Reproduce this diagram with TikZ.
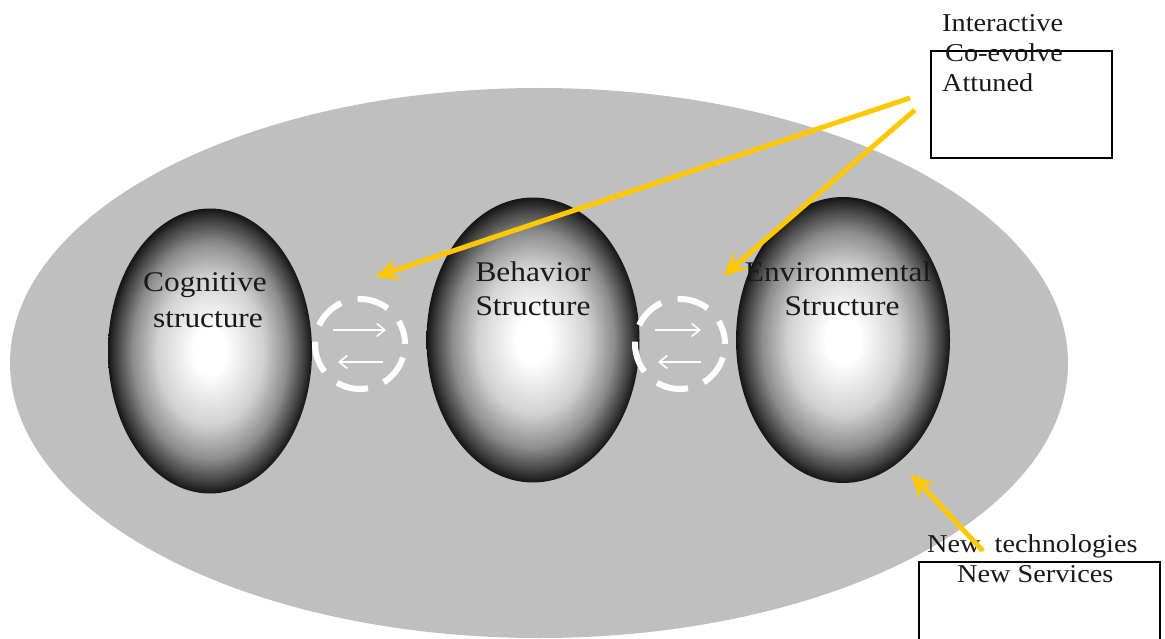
\documentclass[tikz,border=0pt]{standalone}
\usepackage{fontspec}
\setmainfont{Liberation Serif}[FakeStretch=1.1]
\usetikzlibrary{arrows.meta,shapes.geometric}
\definecolor{yel}{RGB}{255,200,0}
\definecolor{bggray}{RGB}{191,191,191}
\definecolor{txt}{RGB}{25,25,25}
\pgfdeclareradialshading{eggshade}{\pgfpoint{0bp}{0bp}}{%
  color(0bp)=(white); color(4bp)=(white); color(13bp)=(black!18);
  color(19bp)=(black!45); color(23bp)=(black!75); color(25bp)=(black!92); color(50bp)=(black)}
\tikzset{
  eggnode/.style={ellipse, draw=none, shading=eggshade, inner sep=0pt},
  eggtxt/.style={anchor=base, inner sep=0pt, text=txt, font=\fontsize{28.5}{34}\selectfont},
  sidetxt/.style={anchor=base west, inner sep=0pt, text=txt, font=\fontsize{25.7}{30}\selectfont},
  dashring/.style={circle, draw=white, line width=6pt, dash pattern=on 32pt off 17pt, dash phase=8pt, minimum size=90pt, inner sep=0pt},
  whitearrow/.style={draw=white, line width=1.6pt, -{Straight Barb[length=8pt,width=13pt]}},
  yarrow/.style={draw=yel, line width=5pt, -{Stealth[length=24pt,width=22pt,inset=9pt]}},
  sidebox/.style={draw=black, line width=1.3pt}
}
\begin{document}
\begin{tikzpicture}[x=1pt,y=-1pt]
\useasboundingbox (0,0) rectangle (1165,639);
\clip (0,0) rectangle (1165,639);
% big background ellipse
\node[ellipse, fill=bggray, draw=none, minimum width=1058pt, minimum height=550pt, inner sep=0pt] (bg) at (539,363) {};
% eggs
\node[eggnode, minimum width=204pt, minimum height=285pt] (cog) at (210,351) {};
\node[eggnode, minimum width=213pt, minimum height=285pt] (beh) at (533,340) {};
\node[eggnode, minimum width=214pt, minimum height=286pt] (env) at (843,340) {};
% dashed rings
\node[dashring] (ring1) at (360,344) {};
\node[dashring] (ring2) at (680,344) {};
\coordinate (r1a) at (333,330); \coordinate (r1b) at (386,330);
\coordinate (r1c) at (383,362); \coordinate (r1d) at (338,362);
\coordinate (r2a) at (655,330); \coordinate (r2b) at (701,330);
\coordinate (r2c) at (701,362); \coordinate (r2d) at (658,362);
\draw[whitearrow] (r1a) -- (r1b);
\draw[whitearrow] (r1c) -- (r1d);
\draw[whitearrow] (r2a) -- (r2b);
\draw[whitearrow] (r2c) -- (r2d);
% egg labels
\node[eggtxt] (cog1) at (205,291) {Cognitive};
\node[eggtxt] (cog2) at (208,327) {structure};
\node[eggtxt] (beh1) at (533,281) {Behavior};
\node[eggtxt] (beh2) at (533,316) {Structure};
\node[eggtxt] (env1) at (838,281) {Environmental};
\node[eggtxt] (env2) at (842,316) {Structure};
% side boxes
\draw[sidebox] (931,51) rectangle (1112,158);
\node[sidetxt] (t1) at (942,32) {Interactive};
\node[sidetxt] (t2) at (945,62) {Co-evolve};
\node[sidetxt] (t3) at (942,92) {Attuned};
\draw[sidebox] (919,562) rectangle (1160,650);
\node[sidetxt] (b1) at (927,552) {New\ \ technologies};
\node[sidetxt] (b2) at (957,582) {New Services};
% yellow arrows
\coordinate (y1s) at (910,98);  \coordinate (y1e) at (375,277);
\coordinate (y2s) at (915,110); \coordinate (y2e) at (723,276);
\coordinate (y3s) at (983,551); \coordinate (y3e) at (911,474);
\draw[yarrow] (y1s) -- (y1e);
\draw[yarrow] (y2s) -- (y2e);
\draw[yarrow] (y3s) -- (y3e);
\end{tikzpicture}
\end{document}
